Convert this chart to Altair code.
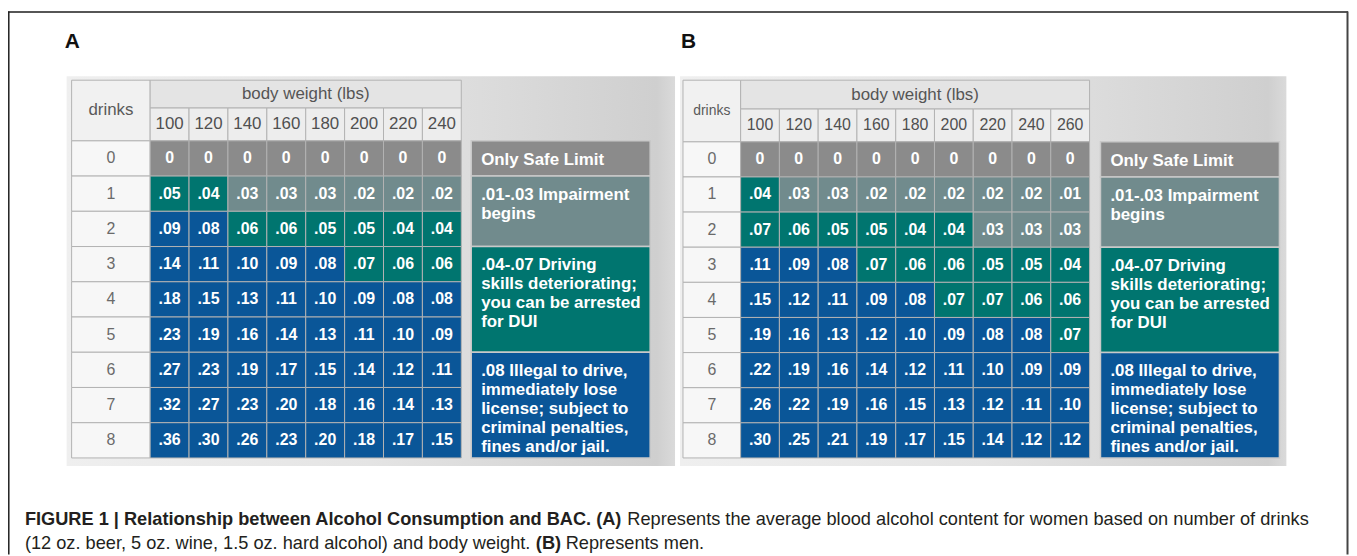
import altair as alt
import pandas as pd

# ---------------- data ----------------
drinks = ["0", "1", "2", "3", "4", "5", "6", "7", "8"]

weights_a = ["100", "120", "140", "160", "180", "200", "220", "240"]
bac_a_0 = [0, 0, 0, 0, 0, 0, 0, 0]
bac_a_1 = [.05, .04, .03, .03, .03, .02, .02, .02]
bac_a_2 = [.09, .08, .06, .06, .05, .05, .04, .04]
bac_a_3 = [.14, .11, .10, .09, .08, .07, .06, .06]
bac_a_4 = [.18, .15, .13, .11, .10, .09, .08, .08]
bac_a_5 = [.23, .19, .16, .14, .13, .11, .10, .09]
bac_a_6 = [.27, .23, .19, .17, .15, .14, .12, .11]
bac_a_7 = [.32, .27, .23, .20, .18, .16, .14, .13]
bac_a_8 = [.36, .30, .26, .23, .20, .18, .17, .15]
bac_a = [bac_a_0, bac_a_1, bac_a_2, bac_a_3, bac_a_4, bac_a_5, bac_a_6, bac_a_7, bac_a_8]

weights_b = ["100", "120", "140", "160", "180", "200", "220", "240", "260"]
bac_b_0 = [0, 0, 0, 0, 0, 0, 0, 0, 0]
bac_b_1 = [.04, .03, .03, .02, .02, .02, .02, .02, .01]
bac_b_2 = [.07, .06, .05, .05, .04, .04, .03, .03, .03]
bac_b_3 = [.11, .09, .08, .07, .06, .06, .05, .05, .04]
bac_b_4 = [.15, .12, .11, .09, .08, .07, .07, .06, .06]
bac_b_5 = [.19, .16, .13, .12, .10, .09, .08, .08, .07]
bac_b_6 = [.22, .19, .16, .14, .12, .11, .10, .09, .09]
bac_b_7 = [.26, .22, .19, .16, .15, .13, .12, .11, .10]
bac_b_8 = [.30, .25, .21, .19, .17, .15, .14, .12, .12]
bac_b = [bac_b_0, bac_b_1, bac_b_2, bac_b_3, bac_b_4, bac_b_5, bac_b_6, bac_b_7, bac_b_8]

legend_text = [
    "Only Safe Limit",
    ".01-.03 Impairment\nbegins",
    ".04-.07 Driving\nskills deteriorating;\nyou can be arrested\nfor DUI",
    ".08 Illegal to drive,\nimmediately lose\nlicense; subject to\ncriminal penalties,\nfines and/or jail.",
]
legend_level = [0, 0.01, 0.04, 0.08]
legend_first = ["0", "1", "3", "6"]
legend_last = ["0", "2", "5", "8"]

panel_labels = ["A", "B"]

# ---------------- style ----------------
FONT = "Liberation Sans"
GREY, SLATE, TEAL, BLUE = "#8b8b8b", "#718b8d", "#00756f", "#0a5698"
CELL_STROKE = "#b2b2b2"


def level_scale():
    return alt.Scale(type="threshold", domain=[0.005, 0.035, 0.075],
                     range=[GREY, SLATE, TEAL, BLUE])


def band(domain, a, b):
    return alt.Scale(type="band", domain=domain, range=[a, b],
                     paddingInner=0, paddingOuter=0)


def fmt(v):
    return "0" if v == 0 else ("%.2f" % v)[1:]


def panel(weights, bac, g):
    layers = []
    # background
    bg = pd.DataFrame({"p": ["bg"]})
    layers.append(
        alt.Chart(bg).mark_rect(
            color=alt.LinearGradient(
                gradient="linear", x1=0, x2=1, y1=0, y2=0,
                stops=[alt.GradientStop(color="#efefef", offset=0),
                       alt.GradientStop(color="#e4e4e4", offset=0.5),
                       alt.GradientStop(color="#cfcfcf", offset=0.97),
                       alt.GradientStop(color="#dadada", offset=1)]))
        .encode(x=alt.X("p:N", scale=band(["bg"], *g["bgx"]), axis=None),
                y=alt.Y("p:N", scale=band(["bg"], *g["bgy"]), axis=None))
    )

    # "drinks" header cell
    dh = pd.DataFrame({"c": ["drinks"]})
    xs = band(["drinks"], g["left"], g["dr"])
    ys = band(["drinks"], g["top"], g["hb"])
    layers.append(alt.Chart(dh).mark_rect(fill="#f1f1f1", stroke=CELL_STROKE, strokeWidth=1)
                  .encode(x=alt.X("c:N", scale=xs, axis=None), y=alt.Y("c:N", scale=ys, axis=None)))
    layers.append(alt.Chart(dh).mark_text(font=FONT, fontSize=g["dfs"], color="#5a5a5a")
                  .encode(x=alt.X("c:N", scale=xs, axis=None), y=alt.Y("c:N", scale=ys, axis=None),
                          text="c:N"))

    # "body weight (lbs)" header cell
    bw = pd.DataFrame({"c": ["body weight (lbs)"]})
    xs = band(["body weight (lbs)"], g["dr"], g["gr"])
    ys = band(["body weight (lbs)"], g["top"], g["mid"])
    layers.append(alt.Chart(bw).mark_rect(fill="#e4e4e4", stroke=CELL_STROKE, strokeWidth=1)
                  .encode(x=alt.X("c:N", scale=xs, axis=None), y=alt.Y("c:N", scale=ys, axis=None)))
    layers.append(alt.Chart(bw).mark_text(font=FONT, fontSize=17, color="#555555")
                  .encode(x=alt.X("c:N", scale=xs, axis=None), y=alt.Y("c:N", scale=ys, axis=None),
                          text="c:N"))

    # weight header cells
    wh = pd.DataFrame({"weight": weights, "r": ["w"] * len(weights)})
    xs = band(weights, g["dr"], g["gr"])
    ys = band(["w"], g["mid"], g["hb"])
    layers.append(alt.Chart(wh).mark_rect(fill="#ededed", stroke=CELL_STROKE, strokeWidth=1)
                  .encode(x=alt.X("weight:N", scale=xs, axis=None), y=alt.Y("r:N", scale=ys, axis=None)))
    layers.append(alt.Chart(wh).mark_text(font=FONT, fontSize=g["wfs"], color="#505050")
                  .encode(x=alt.X("weight:N", scale=xs, axis=None), y=alt.Y("r:N", scale=ys, axis=None),
                          text="weight:N"))

    # drinks column
    dc = pd.DataFrame({"drinks": drinks, "c": ["d"] * len(drinks)})
    xs = band(["d"], g["left"], g["dr"])
    ys = band(drinks, g["hb"], g["bottom"])
    layers.append(alt.Chart(dc).mark_rect(fill="#f7f7f7", stroke=CELL_STROKE, strokeWidth=1)
                  .encode(x=alt.X("c:N", scale=xs, axis=None), y=alt.Y("drinks:N", scale=ys, axis=None)))
    layers.append(alt.Chart(dc).mark_text(font=FONT, fontSize=16, color="#6a6a6a")
                  .encode(x=alt.X("c:N", scale=xs, axis=None), y=alt.Y("drinks:N", scale=ys, axis=None),
                          text="drinks:N"))

    # BAC grid
    rows = []
    for i, d in enumerate(drinks):
        for j, w in enumerate(weights):
            rows.append({"drinks": d, "weight": w, "bac": bac[i][j], "label": fmt(bac[i][j])})
    grid = pd.DataFrame(rows)
    xs = band(weights, g["dr"], g["gr"])
    ys = band(drinks, g["hb"], g["bottom"])
    layers.append(alt.Chart(grid).mark_rect(stroke=CELL_STROKE, strokeWidth=1)
                  .encode(x=alt.X("weight:N", scale=xs, axis=None),
                          y=alt.Y("drinks:N", scale=ys, axis=None),
                          color=alt.Color("bac:Q", scale=level_scale(), legend=None)))
    layers.append(alt.Chart(grid).mark_text(font=FONT, fontSize=16, fontWeight="bold", color="white")
                  .encode(x=alt.X("weight:N", scale=xs, axis=None),
                          y=alt.Y("drinks:N", scale=ys, axis=None),
                          text="label:N"))

    # legend boxes
    leg = pd.DataFrame({
        "text": legend_text,
        "level": legend_level,
        "r0": [drinks.index(f) for f in legend_first],
        "r1": [drinks.index(l) + 1 for l in legend_last],
        "c": ["legend"] * len(legend_text),
    })
    xs = band(["legend"], g["ll"], g["lr"])
    ys = alt.Scale(domain=[0, len(drinks)], range=[g["hb"], g["bottom"]])
    layers.append(alt.Chart(leg).mark_rect(stroke="#c9c9c9", strokeWidth=1.5)
                  .encode(x=alt.X("c:N", scale=xs, axis=None),
                          y=alt.Y("r0:Q", scale=ys, axis=None), y2="r1:Q",
                          color=alt.Color("level:Q", scale=level_scale(), legend=None)))
    layers.append(alt.Chart(leg).mark_text(font=FONT, fontSize=17, fontWeight="bold", color="white",
                                           align="left", baseline="top", lineBreak="\n",
                                           lineHeight=19, dx=10, dy=11)
                  .encode(x=alt.X("c:N", scale=xs, axis=None, bandPosition=0),
                          y=alt.Y("r0:Q", scale=ys, axis=None),
                          text="text:N"))
    return layers


geo_a = dict(bgx=(59, 671), bgy=(67, 459), left=64, dr=143, gr=456, ll=466, lr=646,
             top=71, mid=99, hb=132, bottom=451, dfs=17, wfs=17)
geo_b = dict(bgx=(676, 1286), bgy=(67, 459), left=679, dr=737, gr=1088, ll=1099, lr=1279,
             top=71, mid=100, hb=133, bottom=451, dfs=14, wfs=16)

layers = panel(weights_a, bac_a, geo_a) + panel(weights_b, bac_b, geo_b)

# panel letters
pl = pd.DataFrame({"p": panel_labels})
layers.append(alt.Chart(pl).mark_text(font=FONT, fontSize=21, fontWeight="bold", color="#111111",
                                      align="left", baseline="alphabetic")
              .encode(x=alt.X("p:N", scale=alt.Scale(type="point", domain=panel_labels,
                                                     range=[57, 677], padding=0), axis=None),
                      y=alt.value(39), text="p:N"))

# frame
FR = "#1e1e1e"
one = pd.DataFrame({"a": [0]})
layers.append(alt.Chart(one).mark_rule(color=FR, strokeWidth=1.5)
              .encode(x=alt.value(0), x2=alt.value(1348), y=alt.value(2.5)))
layers.append(alt.Chart(one).mark_rule(color=FR, strokeWidth=1.5)
              .encode(x=alt.value(0.8), y=alt.value(2), y2=alt.value(548)))
layers.append(alt.Chart(one).mark_rule(color="#444444", strokeWidth=2)
              .encode(x=alt.value(1347.5), y=alt.value(2), y2=alt.value(548)))

# caption
CAP_FS = 18.3
cap_bold_1 = "FIGURE 1 | Relationship between Alcohol Consumption and BAC. (A)"
cap_reg_1 = "Represents the average blood alcohol content for women based on number of drinks"
cap_reg_2 = "(12 oz. beer, 5 oz. wine, 1.5 oz. hard alcohol) and body weight."
cap_bold_2 = "(B)"
cap_reg_3 = "Represents men."


def cap(text, x, y, bold):
    return (alt.Chart(one)
            .mark_text(font=FONT, fontSize=CAP_FS, fontWeight="bold" if bold else "normal",
                       color="#231f20", align="left", baseline="alphabetic", text=text)
            .encode(x=alt.value(x), y=alt.value(y)))


layers += [
    cap(cap_bold_1, 17, 518, True),
    cap(cap_reg_1, 623, 518, False),
    cap(cap_reg_2, 17, 543, False),
    cap(cap_bold_2, 531, 543, True),
    cap(cap_reg_3, 561, 543, False),
]

chart = (alt.layer(*layers)
         .resolve_scale(x="independent", y="independent", color="independent")
         .properties(width=1349, height=548, padding=0,
                     autosize=alt.AutoSizeParams(type="none"))
         .configure_view(stroke=None))

chart.save("out.html", embed_options={"renderer": "svg", "actions": False})
